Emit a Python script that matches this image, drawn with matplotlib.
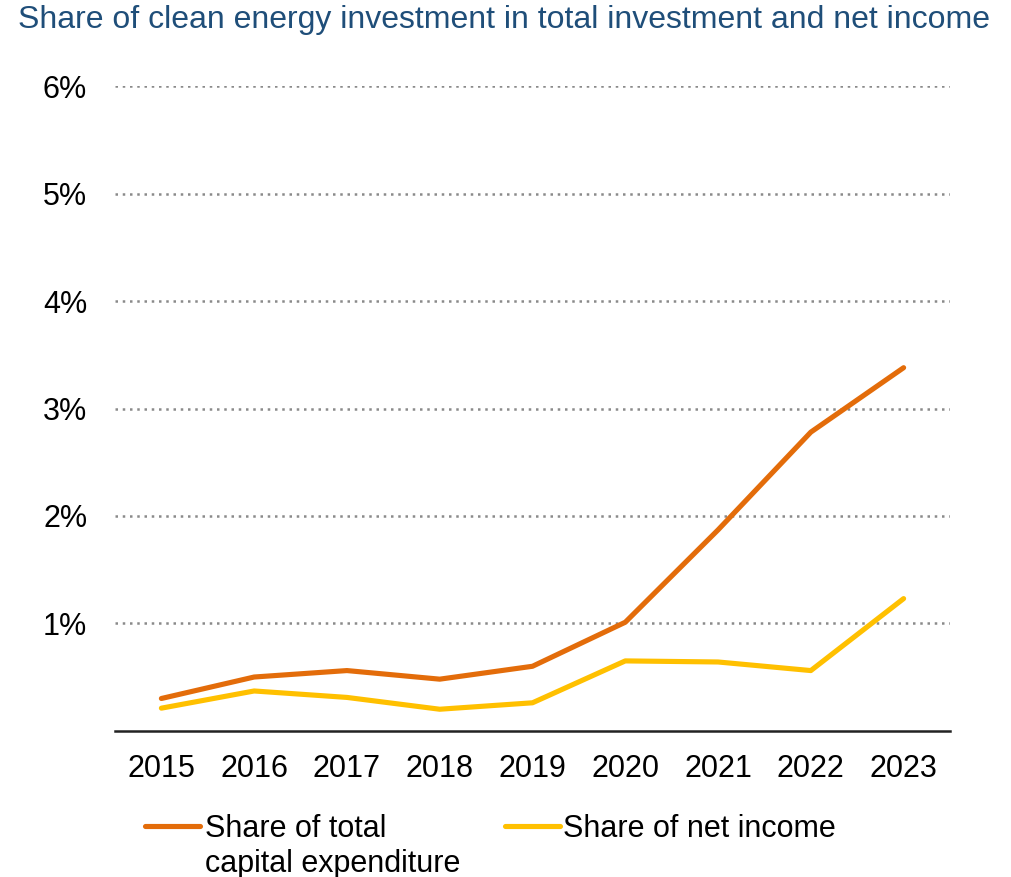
import matplotlib
matplotlib.use("Agg")
import matplotlib.pyplot as plt
from matplotlib.lines import Line2D
from matplotlib.ticker import FuncFormatter

plt.rcParams["font.family"] = ["Liberation Sans", "DejaVu Sans"]

years = ["2015", "2016", "2017", "2018", "2019", "2020", "2021", "2022", "2023"]
capex_share = [0.30, 0.50, 0.56, 0.48, 0.60, 1.01, 1.87, 2.78, 3.38]
income_share = [0.21, 0.37, 0.31, 0.20, 0.26, 0.65, 0.64, 0.56, 1.23]
labels = ["Share of total\ncapital expenditure", "Share of net income"]

ORANGE = "#E36C0A"
YELLOW = "#FFC000"
TITLE_BLUE = "#1F4E79"
W, H = 1012, 877

fig = plt.figure(figsize=(W / 100, H / 100), dpi=100)
ax = fig.add_axes([115 / W, 0.1668, 835 / W, 0.7348])

x = range(len(years))
ax.plot(x, capex_share, color=ORANGE, lw=3.7, solid_capstyle="round", zorder=3)
ax.plot(x, income_share, color=YELLOW, lw=3.7, solid_capstyle="round", zorder=3)

ax.set_xlim(-0.5, len(years) - 0.5)
ax.set_ylim(0, 6)
ax.set_yticks([1, 2, 3, 4, 5, 6])
ax.yaxis.set_major_formatter(FuncFormatter(lambda v, p: f"{v:.0f}%"))
ax.set_xticks(list(x))
ax.set_xticklabels(years)
ax.tick_params(axis="both", length=0, labelsize=22, colors="black")
ax.tick_params(axis="y", pad=20)
ax.tick_params(axis="x", pad=17)

ax.grid(axis="y", linestyle=(0, (1, 1.9)), color="#8a8a8a", lw=1.8)
ax.set_axisbelow(True)
for s in ["top", "right", "left"]:
    ax.spines[s].set_visible(False)
ax.spines["bottom"].set_linewidth(1.8)
ax.spines["bottom"].set_color("#222222")

fig.text(18 / W, 1 - 20 / H, "Share of clean energy investment in total investment and net income",
         fontsize=23, color=TITLE_BLUE, ha="left", va="center")

# legend below the axes, handle aligned with first text line
for (x0, x1, tx), col, lab in zip([(145, 200, 205), (505, 560, 563)], [ORANGE, YELLOW], labels):
    fig.add_artist(Line2D([x0 / W, x1 / W], [1 - 826 / H] * 2, color=col, lw=3.7,
                          solid_capstyle="round", transform=fig.transFigure))
    fig.text(tx / W, 1 - 814 / H, lab, fontsize=22, ha="left", va="top", linespacing=1.2)

fig.savefig("out.png", dpi=100, facecolor="white")
